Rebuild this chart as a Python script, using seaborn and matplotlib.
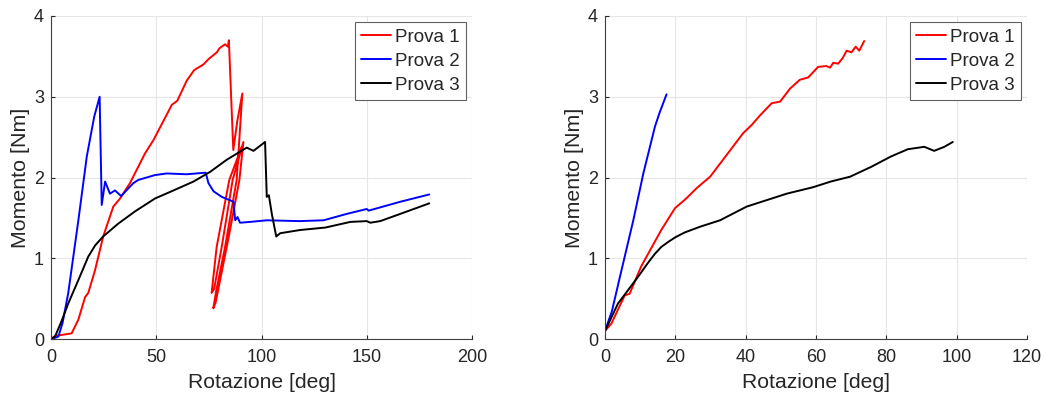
import numpy as np
import pandas as pd
import seaborn as sns
import matplotlib
matplotlib.use("Agg")
import matplotlib.pyplot as plt

# ---------------- Data (left plot: full tests) ----------------
p1_left_x = [0, 2, 5, 9.8, 13, 16.2, 17.7, 20.9, 24.8, 29.6, 32.8, 37.5, 44.7, 48.6, 53, 57.4, 60, 64.5,
             68, 72.4, 75, 78.8, 80, 82.7, 84.0, 84.5, 86.6, 88.5, 90.9, 88.2, 82.7, 78.5, 77.1, 78.2,
             84.7, 89.5, 91.4, 86.3, 81.1, 77.5, 76.3, 78.7, 84.7, 90.6]
p1_left_y = [0, 0.04, 0.05, 0.07, 0.24, 0.52, 0.57, 0.85, 1.27, 1.64, 1.74, 1.93, 2.30, 2.46, 2.68, 2.9,
             2.95, 3.2, 3.33, 3.4, 3.47, 3.55, 3.6, 3.65, 3.62, 3.7, 2.34, 2.7, 3.04, 1.97, 1.14, 0.6,
             0.38, 0.45, 1.3, 1.97, 2.44, 1.97, 1.14, 0.62, 0.57, 1.14, 1.97, 2.38]

p2_left_x = [0, 2.5, 3.5, 5.5, 8.2, 13, 17, 20.5, 23.1, 24.1, 25.7, 28, 30.4, 33.3, 39.1, 41.5, 49.4, 55,
             64.5, 73.5, 74.8, 77.2, 81.1, 86.7, 87.5, 88.6, 89.8, 94.6, 102.5, 118, 129.5, 140.6, 150,
             150.9, 166, 179.7]
p2_left_y = [0, 0.02, 0.03, 0.2, 0.57, 1.47, 2.26, 2.75, 3.0, 1.66, 1.95, 1.80, 1.84, 1.77, 1.93, 1.97,
             2.03, 2.05, 2.04, 2.06, 1.93, 1.83, 1.76, 1.70, 1.47, 1.51, 1.44, 1.45, 1.47, 1.46, 1.47,
             1.55, 1.61, 1.59, 1.70, 1.79]

p3_left_x = [0, 1.9, 5, 8.2, 13, 17.7, 21, 24.8, 32, 39.9, 49.4, 58.2, 67.7, 75.6, 83.5, 93, 96.2,
             101.7, 102.5, 103.5, 104.9, 107, 108.9, 118.4, 130.3, 142.2, 150, 151.7, 156.4, 166, 179.7]
p3_left_y = [0, 0.03, 0.22, 0.44, 0.73, 1.02, 1.16, 1.27, 1.43, 1.58, 1.74, 1.84, 1.95, 2.07, 2.22, 2.37,
             2.33, 2.44, 1.76, 1.78, 1.55, 1.27, 1.31, 1.35, 1.38, 1.45, 1.46, 1.44, 1.46, 1.55, 1.68]

# ---------------- Data (right plot: loading phase) ----------------
p1_right_x = [0, 1.8, 5.6, 7.0, 10.3, 16.0, 19.9, 23.1, 26.1, 29.9, 34.6, 39.3, 41.7, 44.1, 47.4, 49.8,
              52.6, 55.4, 57.8, 60.6, 63.0, 64.0, 64.9, 66.3, 67.6, 68.7, 70.1, 71.3, 72.3, 73.7]
p1_right_y = [0.1, 0.19, 0.54, 0.56, 0.9, 1.35, 1.62, 1.74, 1.87, 2.01, 2.28, 2.55, 2.65, 2.77, 2.92,
              2.94, 3.10, 3.21, 3.24, 3.37, 3.38, 3.36, 3.42, 3.41, 3.48, 3.57, 3.55, 3.62, 3.57, 3.69]

p2_right_x = [0, 2, 4.3, 8.05, 10.9, 14.2, 15.5, 17.5]
p2_right_y = [0.1, 0.35, 0.78, 1.47, 2.05, 2.63, 2.8, 3.03]

p3_right_x = [0, 3.7, 9.4, 12, 14.1, 16, 17.9, 20, 22.7, 27, 32.7, 40.3, 46, 51.7, 59.2, 64.2, 69.7, 75.6,
              81.3, 86.1, 90.8, 93.6, 96.5, 98.9]
p3_right_y = [0.1, 0.44, 0.77, 0.93, 1.05, 1.14, 1.2, 1.26, 1.32, 1.39, 1.47, 1.64, 1.72, 1.80, 1.88, 1.95,
              2.01, 2.13, 2.26, 2.35, 2.38, 2.33, 2.38, 2.44]

series_names = ["Prova 1", "Prova 2", "Prova 3"]
palette = {"Prova 1": "#ff0000", "Prova 2": "#0000ff", "Prova 3": "#000000"}


def build(xs, ys):
    frames = []
    for name, x, y in zip(series_names, xs, ys):
        frames.append(pd.DataFrame({"x": x, "y": y, "serie": name}))
    return pd.concat(frames, ignore_index=True)


df_left = build([p1_left_x, p2_left_x, p3_left_x], [p1_left_y, p2_left_y, p3_left_y])
df_right = build([p1_right_x, p2_right_x, p3_right_x], [p1_right_y, p2_right_y, p3_right_y])

sns.set_theme(style="white")
plt.rcParams["font.family"] = ["Liberation Sans", "DejaVu Sans"]

fig = plt.figure(figsize=(10.48, 3.97), dpi=100)
ax1 = fig.add_axes([51 / 1048, 1 - 339 / 397, 421 / 1048, 323 / 397])
ax2 = fig.add_axes([605 / 1048, 1 - 339 / 397, 422 / 1048, 323 / 397])

for ax, df, xmax, xticks in [(ax1, df_left, 200, [0, 50, 100, 150, 200]),
                              (ax2, df_right, 120, [0, 20, 40, 60, 80, 100, 120])]:
    sns.lineplot(data=df, x="x", y="y", hue="serie", palette=palette, sort=False,
                 estimator=None, units="serie", lw=1.4, ax=ax)
    ax.set_xlim(0, xmax)
    ax.set_ylim(0, 4)
    ax.set_xticks(xticks)
    ax.set_yticks([0, 1, 2, 3, 4])
    ax.grid(True, color="#e6e6e6", lw=0.8)
    ax.set_axisbelow(True)
    for s in ["top", "right"]:
        ax.spines[s].set_visible(False)
    for s in ["left", "bottom"]:
        ax.spines[s].set_color("#404040")
        ax.spines[s].set_linewidth(0.8)
    ax.tick_params(axis="x", pad=7)
    ax.tick_params(axis="y", pad=5)
    ax.tick_params(direction="in", length=3, width=0.8, labelsize=13, colors="#262626",
                   bottom=True, left=True)
    ax.set_xlabel("Rotazione [deg]", fontsize=15.2, color="#262626", labelpad=5.5)
    ax.set_ylabel("Momento [Nm]", fontsize=15.4, color="#262626", labelpad=3)
    leg = ax.legend(loc="upper right", fontsize=13.5, frameon=True, fancybox=False,
                    edgecolor="#606060", framealpha=1, handlelength=1.6, handletextpad=0.2,
                    borderpad=0.33, labelspacing=0.37, borderaxespad=0.34, title=None)
    leg.get_frame().set_linewidth(0.8)

fig.savefig("out.png", dpi=100)
